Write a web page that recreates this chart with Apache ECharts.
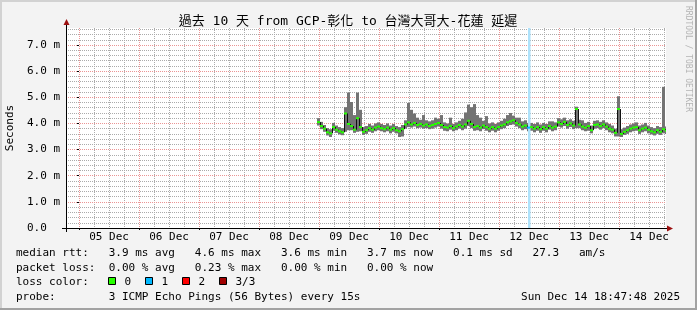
<!DOCTYPE html>
<html><head><meta charset="utf-8">
<script src="https://cdn.jsdelivr.net/npm/echarts@6/dist/echarts.min.js"></script>
<style>html,body{margin:0;padding:0;background:#f3f3f3}#c{width:697px;height:310px}</style>
</head><body><div id="c"></div>
<script>
// ---- data ----
const titleText = '過去 10 天 from GCP-彰化 to 台灣大哥大-花蓮 延遲';
const dayLabels = ['05 Dec','06 Dec','07 Dec','08 Dec','09 Dec','10 Dec','11 Dec','12 Dec','13 Dec','14 Dec'];
const yTicks = [0,1,2,3,4,5,6,7];
// samples: hours after 05 Dec 00:00, regular RRD step
const startHour = 95.2;
const stepHours = 1.2;
const medianMs = [4.05,3.90,3.80,3.66,3.62,3.86,3.76,3.70,3.66,4.38,
  3.98,3.90,3.76,4.20,3.86,3.68,3.74,3.82,3.76,3.84,
  3.88,3.82,3.78,3.84,3.76,3.82,3.74,3.70,3.78,3.96,
  4.04,3.96,4.02,3.94,3.98,3.92,3.96,3.90,3.94,3.98,
  4.02,3.94,3.86,3.84,3.90,3.82,3.88,3.94,3.88,3.96,
  4.10,3.98,3.86,3.90,3.84,3.92,3.86,3.80,3.86,3.80,
  3.86,3.92,3.96,4.04,4.08,4.12,4.02,3.96,3.88,3.92,
  3.84,3.86,3.80,3.86,3.78,3.86,3.80,3.90,3.84,3.88,
  4.04,3.98,4.06,3.94,4.00,3.92,4.55,3.96,3.88,3.84,
  3.90,3.74,3.94,3.96,3.90,3.96,3.88,3.80,3.76,3.64,
  4.55,3.60,3.68,3.74,3.80,3.84,3.86,3.74,3.80,3.84,
  3.76,3.70,3.66,3.74,3.68,3.78,3.72];
const minMs = [3.92,3.78,3.68,3.54,3.48,3.72,3.64,3.58,3.55,3.68,
  3.74,3.74,3.64,3.68,3.70,3.56,3.60,3.68,3.64,3.70,
  3.74,3.70,3.66,3.70,3.62,3.68,3.62,3.48,3.50,3.80,
  3.86,3.84,3.88,3.82,3.84,3.80,3.82,3.78,3.80,3.84,
  3.88,3.80,3.72,3.70,3.76,3.70,3.74,3.80,3.74,3.80,
  3.90,3.82,3.72,3.74,3.70,3.78,3.72,3.66,3.72,3.66,
  3.72,3.78,3.82,3.90,3.94,3.96,3.88,3.82,3.74,3.78,
  3.70,3.72,3.66,3.72,3.64,3.72,3.66,3.76,3.70,3.74,
  3.88,3.84,3.90,3.80,3.86,3.78,3.82,3.82,3.74,3.70,
  3.72,3.62,3.80,3.82,3.76,3.82,3.74,3.66,3.62,3.50,
  3.50,3.48,3.56,3.60,3.66,3.70,3.72,3.60,3.66,3.70,
  3.62,3.58,3.54,3.60,3.56,3.62,3.60];
const maxMs = [4.20,4.06,3.94,3.82,3.78,4.02,3.92,3.86,3.82,4.62,
  5.18,4.82,4.32,5.18,4.52,3.86,3.90,3.98,3.92,4.00,
  4.04,3.98,3.94,4.00,3.92,3.98,3.90,3.86,3.94,4.12,
  4.78,4.52,4.38,4.22,4.14,4.32,4.12,4.08,4.12,4.22,
  4.18,4.32,4.04,4.00,4.22,3.98,4.04,4.10,4.18,4.42,
  4.72,4.62,4.74,4.32,4.22,4.10,4.28,4.00,4.04,3.98,
  4.04,4.10,4.18,4.32,4.40,4.30,4.22,4.22,4.08,4.12,
  4.02,4.02,3.98,4.04,3.96,4.02,3.98,4.08,4.08,4.04,
  4.20,4.16,4.22,4.12,4.16,4.10,4.64,4.14,4.12,4.02,
  4.06,3.92,4.10,4.12,4.06,4.12,4.04,3.98,3.92,3.80,
  5.04,3.78,3.84,3.90,3.96,4.00,4.04,3.92,3.96,4.02,
  3.92,3.86,3.82,3.90,3.86,5.40,3.88];
const lossStartHour = [179.6];
const lossWidthHour = [1.0];
const lossCount = [1];
const lossLabels = ['0','1','2','3/3'];
const rttStats = ['3.9','4.6','3.6','3.7','0.1'];
const lossStats = ['0.00','0.23','0.00','0.00'];
const amPerSec = '27.3';

// ---- styling / layout ----
const MONO = '"DejaVu Sans Mono", "Noto Sans CJK TC", monospace';
const lossColors = ['#26ff00','#00b8ff','#ff0000','#a00000'];
const lossBg = ['#ffffff','#aee2fb','#ffb0b0','#e0a0a0'];
const GL = 66, GT = 28, GW = 600, GH = 200;
const XMIN = -(5 + 12/60 + 12/3600); // 04 Dec 18:47:48
const XMAX = XMIN + 240;
const YMAX = 7.65;

const sixHour = [], dayStarts = [], dayNoons = [], minorY = [];
for (let h = 0; h <= 240; h += 6) sixHour.push(h);
for (let d = 0; d < dayLabels.length; d++) { dayStarts.push(d*24); dayNoons.push(d*24+12); }
for (let k = 1; k <= 38; k++) minorY.push(+(k*0.2).toFixed(1));

const smokeData = medianMs.map((m,i)=>[startHour+i*stepHours, minMs[i], maxMs[i]]);
const medData = medianMs.map((m,i)=>{
  const t = startHour+i*stepHours;
  let loss = 0;
  lossStartHour.forEach((ls,j)=>{ if (ls >= t && ls < t+stepHours) loss = lossCount[j]; });
  return [t, m, i>0 ? medianMs[i-1] : m, loss];
});
const lossData = lossStartHour.map((t,i)=>[t, lossWidthHour[i], lossCount[i]]);

const chart = echarts.init(document.getElementById('c'), null, {renderer:'canvas'});
const gridLine = {color:'#ababab', width:1, type:[1,1]};
const majorLine = {color:'#eb9595', width:1, type:[1,1]};

const texts = [];
function txt(x, y, s, align) {
  texts.push({type:'text', x:x, y:y, z:50, style:{text:s, font:'11px '+MONO, fill:'#000', textAlign:align||'left', textVerticalAlign:'middle'}});
}
const line1 = 'median rtt:   ' + rttStats[0] + ' ms avg   ' + rttStats[1] + ' ms max   ' + rttStats[2] + ' ms min   ' + rttStats[3] + ' ms now   ' + rttStats[4] + ' ms sd   ' + amPerSec + '   am/s';
const line2 = 'packet loss:  ' + lossStats[0] + ' % avg   ' + lossStats[1] + ' % max   ' + lossStats[2] + ' % min   ' + lossStats[3] + ' % now';
txt(16, 253.5, line1);
txt(16, 268, line2);
txt(16, 282, 'loss color:');
txt(16, 297, 'probe:        3 ICMP Echo Pings (56 Bytes) every 15s');
txt(680, 297, 'Sun Dec 14 18:47:48 2025', 'right');
const boxX = [108.5, 145.5, 182.5, 219.5];
lossLabels.forEach((l,i)=>{
  texts.push({type:'rect', z:50, shape:{x:boxX[i], y:277.5, width:7, height:7}, style:{fill:lossColors[i], stroke:'#000', lineWidth:1}});
  txt(boxX[i]+16, 282, l);
});

const graphics = [
  {type:'rect', z:40, shape:{x:0,y:0,width:697,height:2}, style:{fill:'#d2d2d2'}},
  {type:'rect', z:40, shape:{x:0,y:0,width:2,height:310}, style:{fill:'#d2d2d2'}},
  {type:'rect', z:40, shape:{x:0,y:308,width:697,height:2}, style:{fill:'#a2a2a2'}},
  {type:'rect', z:40, shape:{x:695,y:0,width:2,height:310}, style:{fill:'#a2a2a2'}},
  {type:'text', z:50, x:348, y:22, style:{text:titleText, font:'13px '+MONO, fill:'#000', textAlign:'center', textVerticalAlign:'middle'}},
  {type:'text', z:50, x:10, y:128, rotation:Math.PI/2, style:{text:'Seconds', font:'11px '+MONO, fill:'#000', textAlign:'center', textVerticalAlign:'middle'}},
  {type:'text', z:50, x:688, y:59, rotation:-Math.PI/2, style:{text:'RRDTOOL / TOBI OETIKER', font:'8px '+MONO, fill:'#b4b4b4', textAlign:'center', textVerticalAlign:'middle'}},
  {type:'line', z:45, shape:{x1:GL+0.5, y1:GT+GH+4, x2:GL+0.5, y2:GT-4}, style:{stroke:'#000', lineWidth:1}},
  {type:'line', z:45, shape:{x1:GL-4, y1:GT+GH+0.5, x2:GL+GW+2, y2:GT+GH+0.5}, style:{stroke:'#000', lineWidth:1}},
  {type:'polygon', z:46, shape:{points:[[GL-2.5,GT-3],[GL+3.5,GT-3],[GL+0.5,GT-9]]}, style:{fill:'#9c1010'}},
  {type:'polygon', z:46, shape:{points:[[GL+GW+1,GT+GH-2.5],[GL+GW+1,GT+GH+3.5],[GL+GW+7,GT+GH+0.5]]}, style:{fill:'#9c1010'}}
].concat(texts);

chart.setOption({
  animation:false,
  backgroundColor:'#f3f3f3',
  grid:{left:GL, top:GT, width:GW, height:GH, show:true, backgroundColor:'#ffffff', borderWidth:0},
  xAxis:[
    {type:'value', min:XMIN, max:XMAX, position:'bottom', axisLine:{show:false},
     axisTick:{show:false, customValues:sixHour}, axisLabel:{show:false}, splitLine:{show:true, lineStyle:gridLine}},
    {type:'value', min:XMIN, max:XMAX, position:'bottom', z:1, axisLine:{show:false},
     axisTick:{show:true, length:2, customValues:dayStarts, lineStyle:{color:'#000'}},
     axisLabel:{show:true, customValues:dayNoons, margin:4, fontFamily:MONO, fontSize:11, color:'#000',
       formatter:(v)=>dayLabels[Math.round((v-12)/24)] || ''},
     splitLine:{show:true, lineStyle:majorLine}}
  ],
  yAxis:[
    {type:'value', min:0, max:YMAX, position:'left', axisLine:{show:false},
     axisTick:{show:false, customValues:minorY}, axisLabel:{show:false}, splitLine:{show:true, lineStyle:gridLine}},
    {type:'value', min:0, max:YMAX, position:'left', z:1, axisLine:{show:false},
     axisTick:{show:true, length:2, customValues:yTicks, lineStyle:{color:'#000'}},
     axisLabel:{show:true, customValues:yTicks, margin:6, fontFamily:MONO, fontSize:11, color:'#000',
       formatter:(v)=> v===0 ? '0.0  ' : v.toFixed(1)+' m'},
     splitLine:{show:true, lineStyle:majorLine}}
  ],
  series:[
    {type:'custom', name:'smoke', xAxisIndex:0, yAxisIndex:0, z:2, clip:true, data:smokeData,
     encode:{x:0, y:[1,2]},
     renderItem:(p, api)=>{
       const t = api.value(0), lo = api.value(1), hi = api.value(2);
       const a = api.coord([t, hi]), b = api.coord([t+stepHours, lo]);
       return {type:'rect', shape:{x:a[0], y:a[1], width:b[0]-a[0], height:Math.max(1, b[1]-a[1])}, style:{fill:'#737373'}};
     }},
    {type:'custom', name:'lossbg', xAxisIndex:0, yAxisIndex:0, z:3, clip:true, data:lossData,
     encode:{x:0},
     renderItem:(p, api)=>{
       const t = api.value(0), w = api.value(1), n = api.value(2);
       const a = api.coord([t, YMAX]), b = api.coord([t+w, 0]);
       return {type:'rect', shape:{x:a[0], y:a[1], width:b[0]-a[0], height:b[1]-a[1]}, style:{fill:lossBg[n]}};
     }},
    {type:'custom', name:'median', xAxisIndex:0, yAxisIndex:0, z:4, clip:true, data:medData,
     encode:{x:0, y:1},
     renderItem:(p, api)=>{
       const t = api.value(0), m = api.value(1), pm = api.value(2), loss = api.value(3);
       const a = api.coord([t, m]), b = api.coord([t+stepHours, m]), c = api.coord([t, pm]);
       return {type:'group', children:[
         {type:'line', shape:{x1:a[0]+0.5, y1:c[1], x2:a[0]+0.5, y2:a[1]}, style:{stroke:'#111', lineWidth:1}},
         {type:'line', shape:{x1:a[0], y1:a[1], x2:b[0], y2:b[1]}, style:{stroke:lossColors[loss], lineWidth:2}}
       ]};
     }}
  ],
  graphic:graphics
});
</script></body></html>
